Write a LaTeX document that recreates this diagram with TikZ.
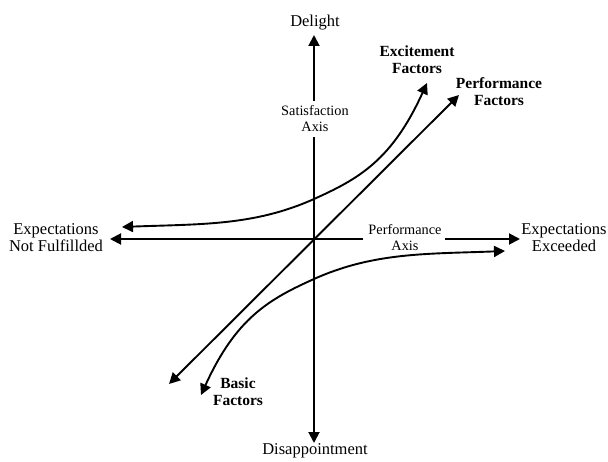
\documentclass[tikz,border=0pt]{standalone}
\usepackage{fontspec}
\setmainfont{Liberation Serif}
\usetikzlibrary{arrows.meta}
\tikzset{
  axisline/.style={line width=1.9pt, -{Triangle[length=11pt,width=11pt]}},
  bothtips/.style={line width=1.9pt, {Triangle[length=11pt,width=11pt]}-{Triangle[length=11pt,width=11pt]}},
  bigtxt/.style={font=\fontsize{16.5}{17}\selectfont, align=center, inner sep=0pt},
  smalltxt/.style={font=\fontsize{14.3}{16}\selectfont, align=center, inner sep=0pt},
  boldtxt/.style={font=\fontsize{15.5}{17}\selectfont\bfseries, align=center, inner sep=0pt}
}
\begin{document}
\begin{tikzpicture}[x=1pt,y=-1pt]
\useasboundingbox (0,0) rectangle (608,462);
% key points
\coordinate (O) at (314,239);
\coordinate (top) at (314,35);
\coordinate (bot) at (314,443);
\coordinate (left) at (110,239);
\coordinate (right) at (520,239);
\coordinate (vgapT) at (314,101);
\coordinate (vgapB) at (314,137);
\coordinate (hgapL) at (363,239);
\coordinate (hgapR) at (445,239);
\coordinate (diagLL) at (169,384);
\coordinate (diagUR) at (459,95);
\coordinate (exA) at (122,227);
\coordinate (exM) at (314,199);
\coordinate (exB) at (427,83);
\coordinate (baA) at (505,251);
\coordinate (baM) at (314,279);
\coordinate (baB) at (201,395);
% labels
\node[bigtxt] (delight) at (315,23) {Delight};
\node[bigtxt] (disap) at (315,451) {Disappointment};
\node[bigtxt] (notful) at (56,238) {Expectations\\Not Fulfillded};
\node[bigtxt] (exceed) at (564,238) {Expectations\\Exceeded};
\node[smalltxt] (satax) at (315,119) {Satisfaction\\Axis};
\node[smalltxt] (perfax) at (405,238) {Performance\\Axis};
\node[boldtxt] (excit) at (417,60) {Excitement\\Factors};
\node[boldtxt] (perf) at (499,92) {Performance\\Factors};
\node[boldtxt] (basic) at (238,392) {Basic\\Factors};
% axes
\draw[axisline] (vgapT) -- (top);
\draw[axisline] (vgapB) -- (bot);
\draw[axisline] (hgapL) -- (left);
\draw[axisline] (hgapR) -- (right);
% performance factors
\draw[bothtips] (diagLL) -- (diagUR);
% excitement factors
\draw[bothtips]
  (exA) .. controls (200,224) and (254,226) .. (exM)
        .. controls (359,178.8) and (392,160) .. (exB);
% basic factors
\draw[bothtips]
  (baA) .. controls (428,254) and (374,252) .. (baM)
        .. controls (269,299.2) and (236,318) .. (baB);
\end{tikzpicture}
\end{document}
